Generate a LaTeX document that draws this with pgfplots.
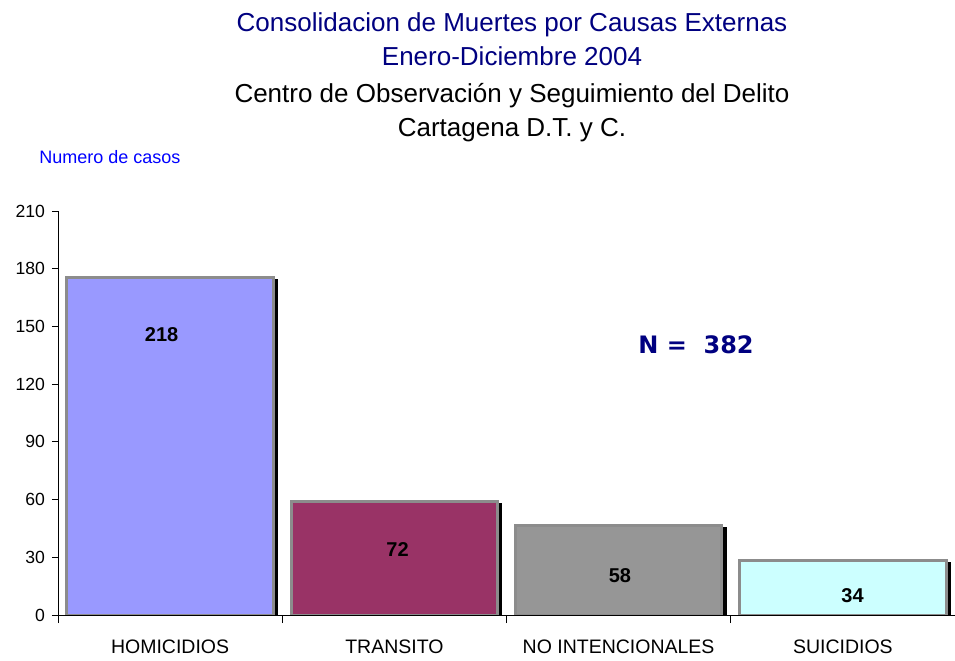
\documentclass[border=0pt]{standalone}
\usepackage{pgfplots}
\pgfplotsset{compat=1.18}
\usepackage{fontspec}
\setmainfont{Liberation Sans}
\newfontfamily\verdana{DejaVu Sans}
\usetikzlibrary{shadows}

\definecolor{navy}{HTML}{000080}
\definecolor{homic}{HTML}{9999FF}
\definecolor{trans}{HTML}{993366}
\definecolor{noint}{HTML}{969696}
\definecolor{suic}{HTML}{CCFFFF}
\definecolor{edge}{HTML}{8C8C8C}

\begin{document}
\begin{tikzpicture}
\useasboundingbox (0,0) rectangle (477.5pt,330pt);
\begin{axis}[
    at={(29pt,22.5pt)}, anchor=south west,
    scale only axis, width=448.5pt, height=202pt,
    xmin=-0.5, xmax=3.5, ymin=0, ymax=210,
    axis x line=bottom, axis y line=left, axis line style={-, line width=0.5pt},
    xtick={0,1,2,3},
    xticklabels={HOMICIDIOS,TRANSITO,NO INTENCIONALES,SUICIDIOS},
    minor xtick={-0.5,0.5,1.5,2.5},
    major x tick style={draw=none},
    ytick={0,30,...,210},
    /pgf/number format/assume math mode=true,
    tick align=outside, major tick length=3pt, minor tick length=4pt,
    tick style={black, line width=0.5pt},
    xticklabel style={font=\fontsize{9.75}{11}\selectfont, anchor=base, yshift=-16.25pt},
    yticklabel style={font=\fontsize{8.8}{10}\selectfont},
    ybar, bar width=0.92, bar shift=0pt,
    every axis plot/.append style={draw=edge, line width=1.5pt,
      drop shadow={shadow xshift=2.4pt, shadow yshift=-0.6pt, shadow scale=1,
        fill=black, draw=none, opacity=1}},
    axis on top,
  ]
  \addplot[fill=homic] coordinates {(0,175.5)};
  \addplot[fill=trans] coordinates {(1,58.8)};
  \addplot[fill=noint] coordinates {(2,46.3)};
  \addplot[fill=suic]  coordinates {(3,28.3)};

  \node[font=\bfseries\fontsize{10}{12}\selectfont] at (axis cs:-0.038,145.5) {218};
  \node[font=\bfseries\fontsize{10}{12}\selectfont] at (axis cs:1.014,34) {72};
  \node[font=\bfseries\fontsize{10}{12}\selectfont] at (axis cs:2.006,20.3) {58};
  \node[font=\bfseries\fontsize{10}{12}\selectfont] at (axis cs:3.043,9.9) {34};
  \node[font=\verdana\bfseries\fontsize{12}{14}\selectfont, text=navy] at (axis cs:2.345,140.3) {N =\ \ 382};
\end{axis}

\node[anchor=base, text=navy, font=\fontsize{13}{15}\selectfont] at (256pt,314pt) {Consolidacion de Muertes por Causas Externas};
\node[anchor=base, text=navy, font=\fontsize{13}{15}\selectfont] at (256pt,297pt) {Enero-Diciembre 2004};
\node[anchor=base, font=\fontsize{13}{15}\selectfont] at (256pt,278.5pt) {Centro de Observación y Seguimiento del Delito};
\node[anchor=base, font=\fontsize{13}{15}\selectfont] at (256pt,261.5pt) {Cartagena D.T. y C.};
\node[anchor=base, text=blue, font=\fontsize{9}{11}\selectfont] at (55pt,248pt) {Numero de casos};
\end{tikzpicture}
\end{document}
